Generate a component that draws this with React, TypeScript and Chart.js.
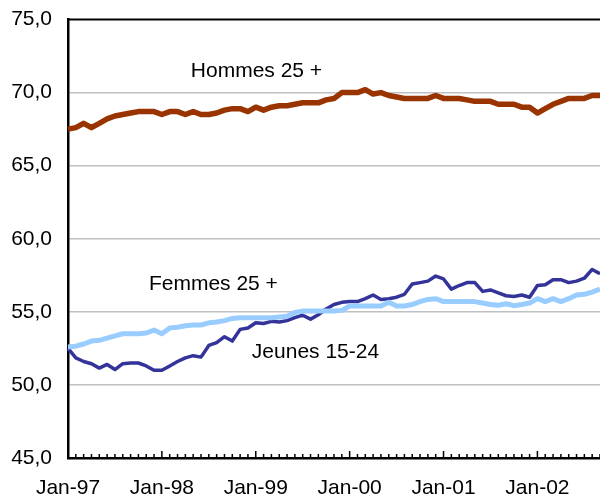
import React, { useEffect, useRef } from "react";
import { Chart, registerables } from "chart.js";

Chart.register(...registerables);

const monthNames = ["Jan", "Feb", "Mar", "Apr", "May", "Jun", "Jul", "Aug", "Sep", "Oct", "Nov", "Dec"];
const years = ["97", "98", "99", "00", "01", "02"];
const monthCount = 69; // Jan-97 .. Sep-02

const categories: string[] = [];
for (let i = 0; i < monthCount; i++) {
  categories.push(`${monthNames[i % 12]}-${years[Math.floor(i / 12)]}`);
}

const yTicks = [45, 50, 55, 60, 65, 70, 75];

const hommes25 = [
  67.5, 67.6, 67.9, 67.6, 67.9, 68.2, 68.4, 68.5, 68.6, 68.7, 68.7, 68.7,
  68.5, 68.7, 68.7, 68.5, 68.7, 68.5, 68.5, 68.6, 68.8, 68.9, 68.9, 68.7,
  69.0, 68.8, 69.0, 69.1, 69.1, 69.2, 69.3, 69.3, 69.3, 69.5, 69.6, 70.0,
  70.0, 70.0, 70.2, 69.9, 70.0, 69.8, 69.7, 69.6, 69.6, 69.6, 69.6, 69.8,
  69.6, 69.6, 69.6, 69.5, 69.4, 69.4, 69.4, 69.2, 69.2, 69.2, 69.0, 69.0,
  68.6, 68.9, 69.2, 69.4, 69.6, 69.6, 69.6, 69.8, 69.8,
];

const femmes25 = [
  52.6, 52.65, 52.8, 53.0, 53.05, 53.2, 53.35, 53.5, 53.5, 53.5, 53.55, 53.75,
  53.5, 53.9, 53.95, 54.05, 54.1, 54.1, 54.25, 54.3, 54.4, 54.55, 54.6, 54.6,
  54.6, 54.6, 54.6, 54.65, 54.7, 54.95, 55.05, 55.05, 55.05, 55.05, 55.05, 55.1,
  55.4, 55.4, 55.4, 55.4, 55.4, 55.65, 55.4, 55.4, 55.5, 55.7, 55.85, 55.9,
  55.7, 55.7, 55.7, 55.7, 55.7, 55.6, 55.5, 55.45, 55.55, 55.42, 55.5, 55.6,
  55.9, 55.7, 55.9, 55.7, 55.9, 56.15, 56.2, 56.35, 56.55,
];

const jeunes1524 = [
  52.5, 51.85, 51.6, 51.45, 51.15, 51.4, 51.05, 51.45, 51.5, 51.5, 51.3, 51.0,
  51.0, 51.3, 51.6, 51.85, 52.0, 51.9, 52.7, 52.9, 53.3, 53.0, 53.8, 53.9,
  54.25, 54.2, 54.35, 54.3, 54.4, 54.6, 54.77, 54.5, 54.8, 55.2, 55.5, 55.65,
  55.7, 55.7, 55.9, 56.15, 55.85, 55.9, 56.0, 56.2, 56.9, 57.0, 57.1, 57.45,
  57.25, 56.55, 56.8, 57.0, 57.0, 56.4, 56.5, 56.3, 56.1, 56.05, 56.15, 56.0,
  56.8, 56.85, 57.2, 57.2, 57.0, 57.1, 57.3, 57.9, 57.6,
];

const annotationTexts = ["Hommes 25 +", "Femmes 25 +", "Jeunes 15-24"];
const annotationX = [15.7, 10.34, 23.5]; // category index of text's left edge
const annotationY = [71.47, 56.9, 52.25]; // value at text's vertical centre

const FONT = "'Liberation Sans', Arial, sans-serif";

const decorPlugin = {
  id: "decor",
  afterDraw(chart: any) {
    const { ctx, chartArea, scales } = chart;
    const xs = scales.x;
    const ys = scales.y;
    ctx.save();
    // top frame line
    ctx.strokeStyle = "#000";
    ctx.lineWidth = 2;
    ctx.beginPath();
    ctx.moveTo(chartArea.left, chartArea.top);
    ctx.lineTo(chartArea.right, chartArea.top);
    ctx.stroke();
    // inward tick marks on x axis
    ctx.lineWidth = 1.5;
    for (let i = 0; i < categories.length; i++) {
      const x = xs.getPixelForValue(i);
      const len = categories[i].startsWith("Jan") ? 7 : 4;
      ctx.beginPath();
      ctx.moveTo(x, chartArea.bottom);
      ctx.lineTo(x, chartArea.bottom - len);
      ctx.stroke();
    }
    // annotations
    ctx.fillStyle = "#000";
    ctx.font = `21px ${FONT}`;
    ctx.textAlign = "left";
    ctx.textBaseline = "middle";
    for (let k = 0; k < annotationTexts.length; k++) {
      ctx.fillText(annotationTexts[k], xs.getPixelForValue(annotationX[k]), ys.getPixelForValue(annotationY[k]));
    }
    ctx.restore();
  },
};

export default function App() {
  const ref = useRef<HTMLCanvasElement | null>(null);

  useEffect(() => {
    if (!ref.current) return;
    const chart = new Chart(ref.current, {
      type: "line",
      data: {
        labels: categories,
        datasets: [
          {
            label: "Hommes 25 +",
            data: hommes25,
            borderColor: "#993300",
            borderWidth: 5.5,
            pointRadius: 0,
            tension: 0,
            borderJoinStyle: "round",
            order: 0,
          },
          {
            label: "Femmes 25 +",
            data: femmes25,
            borderColor: "#99CCFF",
            borderWidth: 5,
            pointRadius: 0,
            tension: 0,
            borderJoinStyle: "round",
            order: 1,
          },
          {
            label: "Jeunes 15-24",
            data: jeunes1524,
            borderColor: "#333399",
            borderWidth: 3.5,
            pointRadius: 0,
            tension: 0,
            borderJoinStyle: "round",
            order: 2,
          },
        ],
      },
      options: {
        responsive: false,
        animation: false,
        devicePixelRatio: 1,
        layout: { padding: { top: 19.5, right: 0, bottom: 0, left: 0 } },
        plugins: {
          legend: { display: false },
          tooltip: { enabled: false },
        },
        scales: {
          x: {
            type: "category",
            offset: false,
            grid: { display: true, drawOnChartArea: false, drawTicks: false },
            border: { display: true, color: "#000", width: 2.5 },
            ticks: {
              autoSkip: false,
              maxRotation: 0,
              minRotation: 0,
              padding: 18,
              color: "#000",
              font: { family: FONT, size: 21 },
              callback: (_v: any, i: number) => (categories[i].startsWith("Jan") ? categories[i] : ""),
            },
            afterFit: (scale: any) => {
              scale.height = 42;
              scale.paddingLeft = 0;
              scale.paddingRight = 0;
            },
          },
          y: {
            min: yTicks[0],
            max: yTicks[yTicks.length - 1],
            afterBuildTicks: (scale: any) => {
              scale.ticks = yTicks.map((v) => ({ value: v }));
            },
            grid: {
              drawTicks: false,
              color: (c: any) =>
                c.tick && (c.tick.value === yTicks[0] || c.tick.value === yTicks[yTicks.length - 1])
                  ? "rgba(0,0,0,0)"
                  : "#c0c0c0",
              lineWidth: 1.5,
            },
            border: { display: true, color: "#000", width: 2.5 },
            ticks: {
              padding: 16,
              color: "#000",
              font: { family: FONT, size: 21 },
              callback: (v: any) => Number(v).toFixed(1).replace(".", ","),
            },
            afterFit: (scale: any) => {
              scale.width = 68;
              scale.paddingTop = 0;
              scale.paddingBottom = 0;
            },
          },
        },
      },
      plugins: [decorPlugin],
    });
    return () => chart.destroy();
  }, []);

  return (
    <div style={{ position: "fixed", left: 0, top: 0, width: 600, height: 500, background: "#fff" }}>
      <canvas ref={ref} width={600} height={500} style={{ display: "block" }} />
    </div>
  );
}
